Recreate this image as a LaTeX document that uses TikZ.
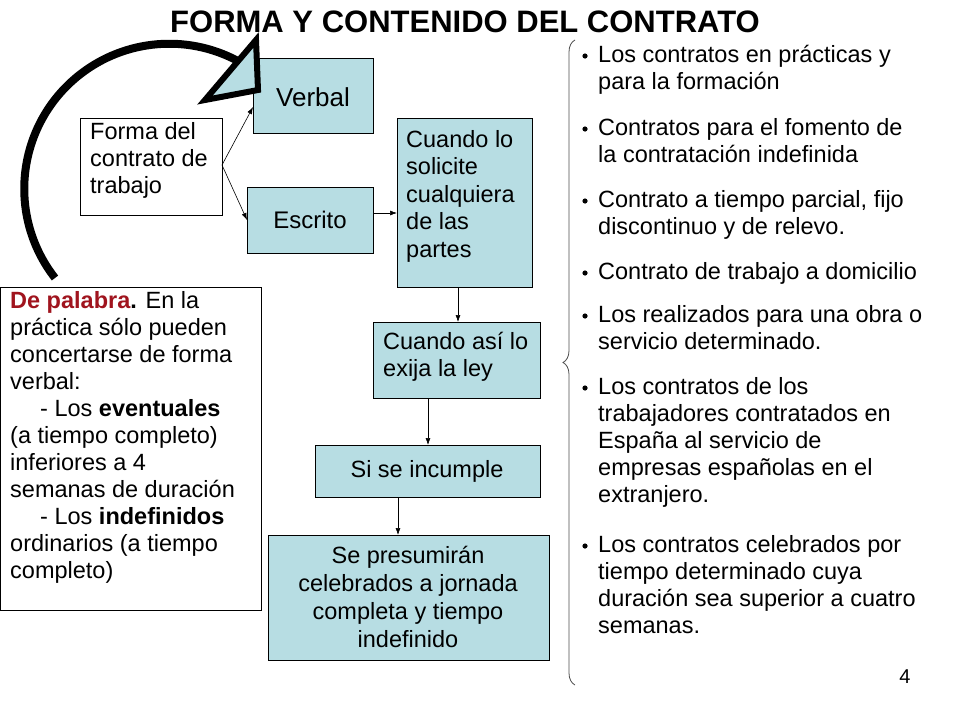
\documentclass[tikz,border=0pt]{standalone}
\usepackage{fontspec}
\setmainfont{Liberation Sans}
\usetikzlibrary{decorations.pathreplacing,arrows.meta}
\definecolor{lb}{HTML}{B7DDE3}
\definecolor{dred}{HTML}{A0141E}
\begin{document}
\begin{tikzpicture}[x=1pt,y=-1pt,
  box/.style={draw,line width=0.8pt,fill=lb,inner sep=0pt},
  wbox/.style={draw,line width=0.8pt,fill=white,inner sep=0pt},
  txt/.style={font=\fontsize{23.5}{27}\selectfont,align=left,anchor=north west,inner sep=0pt},
  arr/.style={-{Latex[length=7pt,width=5pt]},line width=0.6pt}]
\useasboundingbox (0,0) rectangle (960,720);
\node[font=\bfseries\fontsize{31}{34}\selectfont] (title) at (465,22) {FORMA Y CONTENIDO DEL CONTRATO};
% boxes
\draw[wbox] (80,118) rectangle (222,215); \coordinate (fo) at (222,165);
\node[txt,font=\fontsize{23.5}{27}\selectfont] (forma) at (90,122) {Forma del\\contrato de\\trabajo};
\draw[box] (253,58) rectangle (373,133);
\node[font=\fontsize{26}{28}\selectfont] (verbal) at (313,97) {Verbal};
\coordinate (ve) at (253,107);
\draw[box] (247,187) rectangle (373,253);
\node[font=\fontsize{24}{27}\selectfont] (escrito) at (310,220) {Escrito};
\coordinate (esl) at (247,220); \coordinate (esr) at (373,213);
\draw[box] (397,118) rectangle (532,287);
\node[txt,font=\fontsize{23.5}{27.5}\selectfont] (cuando) at (406,130) {Cuando lo\\solicite\\cualquiera\\de las\\partes};
\coordinate (cul) at (397,213); \coordinate (cub) at (458,287);
\draw[box] (373,322) rectangle (540,398);
\node[txt,font=\fontsize{23.5}{27}\selectfont] (ley) at (383,332) {Cuando así lo\\exija la ley};
\coordinate (leyt) at (458,322); \coordinate (leyb) at (428,398);
\draw[box] (315,445) rectangle (540,497);
\node[font=\fontsize{23.5}{27}\selectfont] (inc) at (427,471) {Si se incumple};
\coordinate (inct) at (428,445); \coordinate (incb) at (398,497);
\draw[box] (268,535) rectangle (549,660);
\node[font=\fontsize{23.5}{28}\selectfont,align=center] (pres) at (408,597) {Se presumirán\\celebrados a jornada\\completa y tiempo\\indefinido};
\coordinate (prest) at (398,535);
% arrows
\draw[arr] (fo) -- (ve);
\draw[arr] (fo) -- (esl);
\draw[arr] (esr) -- (cul);
\draw[arr] (cub) -- (leyt);
\draw[arr] (leyb) -- (inct);
\draw[arr] (incb) -- (prest);
% left box
\draw[wbox] (0,287) rectangle (261,610);
\node[txt,font=\fontsize{23.5}{27}\selectfont] (pal) at (10,291) {\textcolor{dred}{\bfseries De palabra}\textbf{.} En la\\práctica sólo pueden\\concertarse de forma\\verbal:\\\hspace*{30pt}- Los \textbf{eventuales}\\(a tiempo completo)\\inferiores a 4\\semanas de duración\\\hspace*{30pt}- Los \textbf{indefinidos}\\ordinarios (a tiempo\\completo)};
% big arc
\draw[line width=8pt] (55,278) arc[start angle=142,end angle=298,radius=145];
\draw[line width=6pt,fill=lb,line join=miter] (205,100) -- (256,40) -- (258,90) -- cycle;
% brace
\draw[decorate,decoration={brace,amplitude=12pt},line width=0.8pt,black!70] (575,685) -- (575,40);
% bullets
\foreach \y/\t in {45/{Los contratos en prácticas y\\para la formación},
  118/{Contratos para el fomento de\\la contratación indefinida},
  190/{Contrato a tiempo parcial, fijo\\discontinuo y de relevo.},
  262/{Contrato de trabajo a domicilio},
  305/{Los realizados para una obra o\\servicio determinado.},
  377/{Los contratos de los\\trabajadores contratados en\\España al servicio de\\empresas españolas en el\\extranjero.},
  535/{Los contratos celebrados por\\tiempo determinado cuya\\duración sea superior a cuatro\\semanas.}}{
  \fill (585,\y+11) circle (2.6);
  \node[txt] at (598,\y) {\t};
}
\node[font=\fontsize{20}{22}\selectfont] (num) at (905,677) {4};
\end{tikzpicture}
\end{document}
